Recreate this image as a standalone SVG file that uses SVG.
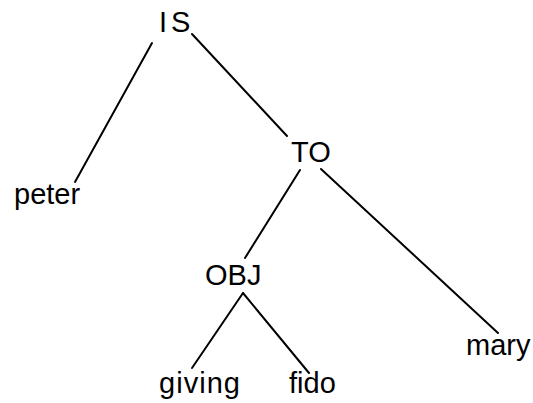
<svg xmlns="http://www.w3.org/2000/svg" width="533" height="403" viewBox="0 0 533 403">
  <style>
    .lbl { font-family: "Liberation Sans", Arial, sans-serif; font-size: 29px; fill: #000; }
    .edge { stroke: #000; stroke-width: 2; fill: none; stroke-linecap: round; }
  </style>
  <rect width="533" height="403" fill="#fff"/>
  <g id="connectors">
    <line class="edge" x1="152" y1="43" x2="75" y2="182"/>
    <line class="edge" x1="192" y1="34" x2="287" y2="136"/>
    <line class="edge" x1="300" y1="170" x2="245" y2="258"/>
    <line class="edge" x1="321" y1="169" x2="498" y2="333"/>
    <line class="edge" x1="243" y1="293" x2="192" y2="368"/>
    <line class="edge" x1="243" y1="293" x2="309" y2="373"/>
  </g>
  <g id="node-is"><text class="lbl" x="159" y="32" word-spacing="-4">I S</text></g>
  <g id="node-peter"><text class="lbl" x="14" y="204">peter</text></g>
  <g id="node-to"><text class="lbl" x="291" y="162">TO</text></g>
  <g id="node-obj"><text class="lbl" x="205" y="285">OBJ</text></g>
  <g id="node-mary"><text class="lbl" x="466" y="355">mary</text></g>
  <g id="node-giving"><text class="lbl" x="159" y="393" textLength="81">giving</text></g>
  <g id="node-fido"><text class="lbl" x="289" y="393">fido</text></g>
</svg>
